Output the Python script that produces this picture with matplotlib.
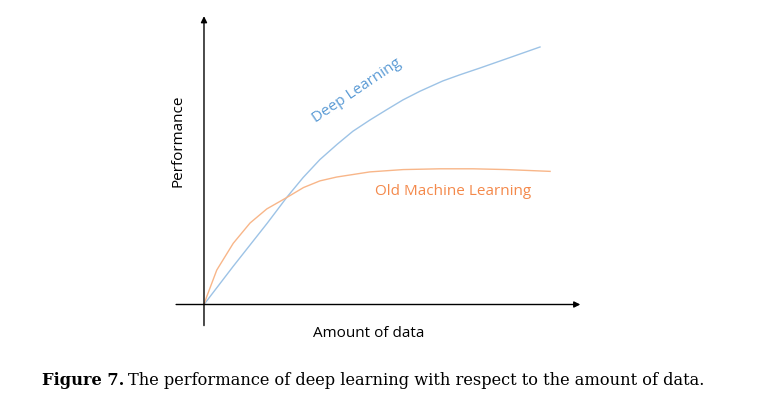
import matplotlib.pyplot as plt

# curve values (x: amount of data, y: performance)
dl_x = [0, 0.86, 1.88, 2.47, 2.95, 3.45, 3.96, 4.43, 4.94, 5.45, 5.92, 6.43, 7.11, 7.62, 8.21, 9.02, 10.0]
dl_y = [0, 1.47, 3.16, 4.18, 4.94, 5.64, 6.23, 6.74, 7.18, 7.59, 7.96, 8.30, 8.70, 8.94, 9.20, 9.57, 10.02]

ml_x = [0, 0.08, 0.38, 0.87, 1.37, 1.87, 2.46, 2.96, 3.45, 3.95, 4.94, 5.93, 7.02, 8.01, 9.01, 10.30]
ml_y = [0, 0.30, 1.34, 2.38, 3.17, 3.72, 4.16, 4.55, 4.81, 4.96, 5.16, 5.25, 5.28, 5.28, 5.25, 5.18]

xlabel = 'Amount of data'
ylabel = 'Performance'
dl_label = 'Deep Learning'
ml_label = 'Old Machine Learning'
cap_bold = 'Figure 7.'
cap_text = 'The performance of deep learning with respect to the amount of data.'

W, H = 762, 412
fig = plt.figure(figsize=(W / 100, H / 100), dpi=100)
ax = fig.add_axes([0, 0, 1, 1])
ax.set_xlim(-6.071, 16.607)
ax.set_ylim(-(H - 304.5) / 25.7, 304.5 / 25.7)
ax.axis('off')

# axes arrows
arr = dict(arrowstyle='-|>', color='black', lw=1.0, mutation_scale=9, shrinkA=0, shrinkB=0)
ax.annotate('', xy=(11.2, 0), xytext=(-0.83, 0), arrowprops=arr)
ax.annotate('', xy=(0, 11.22), xytext=(0, -0.82), arrowprops=arr)

ax.plot(dl_x, dl_y, color='#9DC3E6', lw=1.0, solid_joinstyle='round')
ax.plot(ml_x, ml_y, color='#F8B689', lw=1.0, solid_joinstyle='round')

font = 'Open Sans'
ax.text(4.55, 8.33, dl_label, color='#5B9BD5', fontsize=11, rotation=34,
        ha='center', va='center', family=font)
ax.text(7.42, 4.38, ml_label, color='#F4894B', fontsize=11,
        ha='center', va='center', family=font)
ax.text(4.9, -1.12, xlabel, fontsize=11, ha='center', va='center', family=font)
ax.text(-0.77, 6.38, ylabel, fontsize=11, rotation=90, ha='center', va='center', family=font)

# caption: same size for both parts, fitted to the width seen in the picture
fig.canvas.draw()
r = fig.canvas.get_renderer()
ybase = 1 - 385 / H
x0, gap, total = 42, 4, 665
t1 = fig.text(x0 / W, ybase, cap_bold, fontsize=11, fontweight='bold',
              family='DejaVu Serif', ha='left', va='baseline')
t2 = fig.text(0, ybase, cap_text, fontsize=11,
              family='DejaVu Serif', ha='left', va='baseline')
w = t1.get_window_extent(r).width + t2.get_window_extent(r).width
fs = 11 * (total - gap) / w
t1.set_fontsize(fs)
t2.set_fontsize(fs)
w1 = t1.get_window_extent(r).width
t2.set_x((x0 + w1 + gap) / W)

fig.savefig('out.png', dpi=100)
